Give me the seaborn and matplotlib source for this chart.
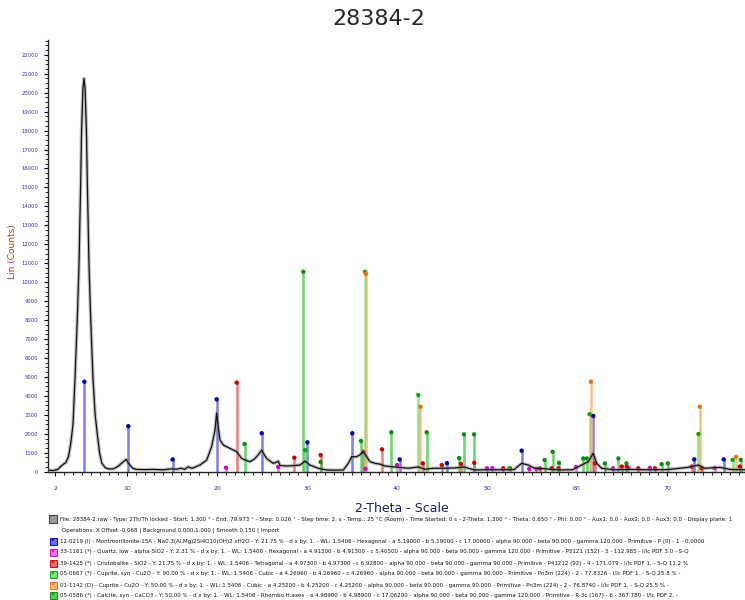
import numpy as np
import pandas as pd
import matplotlib
matplotlib.use("Agg")
import matplotlib.pyplot as plt
import seaborn as sns
from matplotlib.patches import Rectangle
from matplotlib.ticker import MultipleLocator

two_theta = [1.3, 1.8, 2.3, 2.7, 3.0, 3.2, 3.5, 3.75, 4.0, 4.22, 4.47, 4.67, 4.74, 4.84, 4.95,
             5.1, 5.22, 5.34, 5.49, 5.60, 5.70, 5.77, 5.97, 6.22, 6.46, 6.72, 6.95, 7.2, 7.6, 8.0,
             8.5, 9.0, 9.4, 9.9, 10.2, 10.6, 11.0, 12.0, 13.0, 14.0, 15.0, 15.5, 16.0, 16.4, 16.8,
             17.2, 17.6, 18.1, 18.86, 19.4, 19.78, 19.96, 20.15, 20.33, 20.7, 21.44, 22.19, 22.74,
             23.1, 23.67, 24.2, 24.6, 24.97, 25.25, 25.52, 26.26, 26.6, 26.8, 27.0, 27.74, 28.5,
             29.2, 29.78, 30.33, 31.26, 32.19, 33.0, 34.04, 34.59, 34.97, 35.52, 35.9, 36.26,
             36.63, 37.0, 37.56, 38.1, 38.67, 39.78, 40.5, 41.26, 42.37, 43.1, 44.0, 45.0, 46.5,
             47.44, 48.6, 50.0, 51.5, 53.0, 53.85, 54.6, 55.3, 56.5, 58.0, 59.5, 60.5, 61.26,
             61.8, 62.19, 62.74, 64.0, 66.0, 68.0, 70.0, 72.37, 73.48, 74.2, 75.9, 77.0, 78.5, 79.0]
counts = [80, 60, 120, 300, 420, 480, 800, 1500, 2500, 4900, 8000, 11000, 12700, 15000, 18000,
          20200, 20750, 20200, 18000, 15000, 12700, 11000, 8000, 4900, 3000, 1900, 1000, 450, 200, 140,
          150, 280, 450, 650, 420, 200, 120, 110, 120, 100, 150, 130, 180, 120, 260,
          180, 250, 350, 620, 1320, 2200, 3100, 2300, 1670, 1410, 1230, 1055, 700,
          620, 530, 690, 900, 1145, 900, 690, 440, 500, 560, 330, 300, 320,
          350, 560, 350, 180, 90, 80, 90, 440, 790, 790, 900, 1055,
          790, 530, 440, 400, 300, 250, 220, 180, 250, 130, 180, 180, 200,
          250, 90, 100, 100, 110, 440, 350, 180, 150, 90, 100, 350, 530,
          970, 440, 180, 100, 120, 100, 110, 230, 350, 180, 230, 120, 100, 100]

# reference sticks per phase
mont_pos = [5.26, 10.14, 15.07, 19.96, 24.97, 30.04, 35.03, 40.3, 45.55, 53.85, 61.81, 73.03, 76.3]
mont_int = [4750, 2400, 650, 3820, 2030, 1550, 2030, 650, 450, 1110, 2940, 650, 650]

quartz_pos = [21.0, 26.8, 36.5, 40.0, 50.0, 50.6, 54.7, 55.5, 59.9, 64.0, 65.7, 68.1, 75.3]
quartz_int = [210, 250, 150, 350, 180, 180, 150, 150, 250, 180, 200, 200, 200]

crist_pos = [22.19, 28.59, 31.52, 36.26, 38.33, 42.86, 44.97, 47.11, 48.59, 51.81, 52.56, 55.89,
             57.19, 57.93, 62.0, 64.97, 65.52, 66.81, 68.67, 72.74, 73.85, 78.1]
crist_int = [4700, 740, 880, 1050, 1180, 440, 350, 400, 470, 180, 180, 180,
             180, 180, 440, 270, 270, 180, 180, 270, 180, 270]

cuprite_syn_pos = [29.8, 36.45, 42.37, 52.5, 61.4, 73.5, 77.3]
cuprite_syn_int = [1140, 10550, 4050, 180, 3030, 1990, 620]

cuprite_pos = [36.55, 42.6, 61.55, 73.65, 77.67]
cuprite_int = [10450, 3430, 4750, 3430, 780]

calcite_pos = [23.06, 29.59, 31.5, 36.0, 39.37, 43.3, 46.9, 47.44, 48.56, 56.4, 57.3, 58.0,
               60.7, 61.1, 63.1, 64.6, 65.5, 69.4, 70.1, 78.2]
calcite_int = [1460, 10550, 510, 1620, 2080, 2080, 720, 1970, 1970, 620, 1050, 470,
               700, 700, 440, 700, 440, 400, 440, 620]

header_lines = [
    "File: 28384-2.raw - Type: 2Th/Th locked - Start: 1.300 ° - End: 79.973 ° - Step: 0.026 ° - Step time: 2. s - Temp.: 25 °C (Room) - Time Started: 0 s - 2-Theta: 1.300 ° - Theta: 0.650 ° - Phi: 0.00 ° - Aux1: 0.0 - Aux2: 0.0 - Aux3: 0.0 - Display plane: 1",
    "Operations: X Offset -0.068 | Background 0.000,1.000 | Smooth 0.150 | Import",
]
phase_lines = [
    "12-0219 (I) - Montmorillonite-15A - Na0.3(Al,Mg)2Si4O10(OH)2·xH2O - Y: 21.75 % - d x by: 1. - WL: 1.5406 - Hexagonal - a 5.19000 - b 5.19000 - c 17.00000 - alpha 90.000 - beta 90.000 - gamma 120.000 - Primitive - P (0) - 1 - 0.0000",
    "33-1161 (*) - Quartz, low - alpha-SiO2 - Y: 2.31 % - d x by: 1. - WL: 1.5406 - Hexagonal - a 4.91300 - b 4.91300 - c 5.40500 - alpha 90.000 - beta 90.000 - gamma 120.000 - Primitive - P3121 (152) - 3 - 112.985 - I/Ic PDF 3.0 - S-Q",
    "39-1425 (*) - Cristobalite - SiO2 - Y: 21.75 % - d x by: 1. - WL: 1.5406 - Tetragonal - a 4.97300 - b 4.97300 - c 6.92800 - alpha 90.000 - beta 90.000 - gamma 90.000 - Primitive - P41212 (92) - 4 - 171.079 - I/Ic PDF 1. - S-Q 11.2 %",
    "05-0667 (*) - Cuprite, syn - Cu2O - Y: 90.00 % - d x by: 1. - WL: 1.5406 - Cubic - a 4.26960 - b 4.26960 - c 4.26960 - alpha 90.000 - beta 90.000 - gamma 90.000 - Primitive - Pn3m (224) - 2 - 77.8326 - I/Ic PDF 1. - S-Q 25.8 % -",
    "01-1142 (D) - Cuprite - Cu2O - Y: 50.00 % - d x by: 1. - WL: 1.5406 - Cubic - a 4.25200 - b 4.25200 - c 4.25200 - alpha 90.000 - beta 90.000 - gamma 90.000 - Primitive - Pn3m (224) - 2 - 76.8740 - I/Ic PDF 1. - S-Q 25.5 % -",
    "05-0586 (*) - Calcite, syn - CaCO3 - Y: 50.00 % - d x by: 1. - WL: 1.5406 - Rhombo.H.axes - a 4.98900 - b 4.98900 - c 17.06200 - alpha 90.000 - beta 90.000 - gamma 120.000 - Primitive - R-3c (167) - 6 - 367.780 - I/Ic PDF 2. -",
]

# (positions, intensities, line colour, dot colour)
phases = [
    (mont_pos, mont_int, '#5c5cf0', '#0000b0'),
    (quartz_pos, quartz_int, '#f060f0', '#d000d0'),
    (crist_pos, crist_int, '#f05a5a', '#cc0000'),
    (cuprite_syn_pos, cuprite_syn_int, '#70e070', '#10a010'),
    (cuprite_pos, cuprite_int, '#ffaa66', '#f07010'),
    (calcite_pos, calcite_int, '#3fcc3f', '#108a10'),
]

sns.set_style("ticks")
plt.rcParams['font.family'] = ['DejaVu Sans']

W, H = 745, 600
fig = plt.figure(figsize=(W / 100, H / 100), dpi=100)
ax = fig.add_axes([48 / W, 1 - 471.7 / H, 1 - 48 / W, (471.7 - 40) / H])

for pos, inten, lc, dc in phases:
    ax.vlines(pos, 0, inten, colors=lc, lw=1.8, alpha=0.8, zorder=2)
    sns.scatterplot(x=pos, y=inten, color=dc, s=10, edgecolor='none', ax=ax, zorder=3, legend=False)

df = pd.DataFrame({'two_theta': two_theta, 'counts': counts})
# soft grey halo like the screenshot, then the curve itself
sns.lineplot(data=df, x='two_theta', y='counts', color='#888888', lw=2.6, alpha=0.5, ax=ax, zorder=4)
sns.lineplot(data=df, x='two_theta', y='counts', color='#111111', lw=0.9, ax=ax, zorder=5)

ax.set_xlim(1.22, 78.67)
ax.set_ylim(0, 22780)
ax.set_xticks([2, 10, 20, 30, 40, 50, 60, 70])
ax.xaxis.set_minor_locator(MultipleLocator(1))
ax.set_yticks(np.arange(0, 22001, 1000))
ax.yaxis.set_minor_locator(MultipleLocator(250))
ax.tick_params(axis='both', which='major', direction='out', length=3, width=0.8,
               labelsize=4.5, labelcolor='#333399', color='black')
ax.tick_params(axis='y', which='major', labelsize=3.8, pad=4)
ax.tick_params(axis='both', which='minor', direction='out', length=2, width=0.6, color='black')
ax.tick_params(axis='x', pad=7)
ax.set_xlabel('')
ax.set_ylabel('')
sns.despine(ax=ax)
ax.spines['left'].set_linewidth(1.0)
ax.spines['bottom'].set_linewidth(1.0)

fig.text(379 / W, 1 - 19 / H, '28384-2', ha='center', va='center', fontsize=16)
fig.text(402 / W, 1 - 508 / H, '2-Theta - Scale', ha='center', va='center',
         fontsize=9, color='#1a1a66')
fig.text(12 / W, 1 - 252 / H, 'Lin (Counts)', rotation=90, ha='center', va='center',
         fontsize=6.5, color='#b03a10')

# legend block under the plot
row_y = [519, 530, 541, 552, 563, 574, 585, 595]
fig.add_artist(Rectangle(((53 - 4) / W, 1 - (row_y[0] + 4) / H), 8 / W, 8 / H,
                         transform=fig.transFigure, facecolor='#9a9a9a', edgecolor='#444444', lw=0.8))
fig.text(60 / W, 1 - row_y[0] / H, header_lines[0], fontsize=4, va='center', color='#111111')
fig.text(62 / W, 1 - row_y[1] / H, header_lines[1], fontsize=4, va='center', color='#111111')

for i, (text, (pos, inten, lc, dc)) in enumerate(zip(phase_lines, phases)):
    y = row_y[i + 2]
    fig.add_artist(Rectangle(((53 - 3.5) / W, 1 - (y + 3.5) / H), 7 / W, 7 / H,
                             transform=fig.transFigure, facecolor=lc, edgecolor=dc, lw=0.8, alpha=0.9))
    fig.text(53 / W, 1 - y / H, '•', fontsize=5, ha='center', va='center', color=dc)
    fig.text(60 / W, 1 - y / H, text, fontsize=4, va='center', color='#111111')

fig.savefig('out.png', dpi=100)
